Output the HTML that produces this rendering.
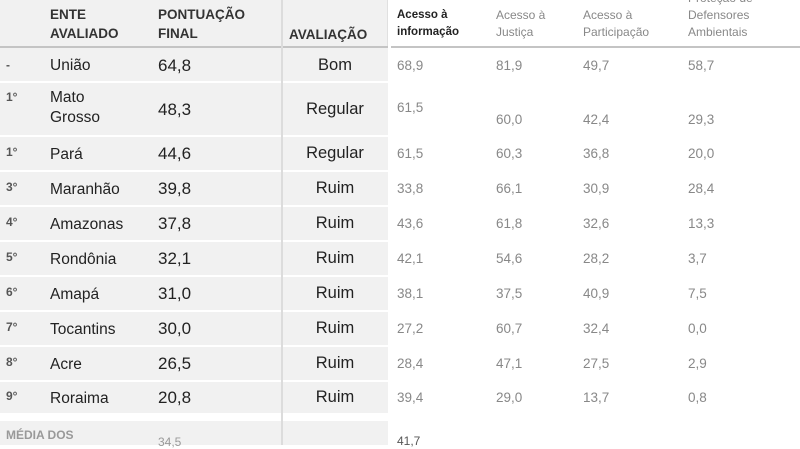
<!DOCTYPE html>
<html><head><meta charset="utf-8"><style>
body{margin:0;width:800px;height:445px;overflow:hidden;background:#fff;font-family:"Liberation Sans",sans-serif;position:relative}
.a{position:absolute;white-space:nowrap;line-height:1}
.bg{position:absolute;left:0;width:389px;background:#f1f1f1}
.rk{font-size:12px;font-weight:bold;color:#555;left:6px}
.nm{font-size:15.5px;color:#222;left:50px}
.sc{font-size:17px;color:#222;left:158px}
.av{font-size:16.5px;color:#222;left:282px;width:106px;text-align:center}
.v{font-size:13.5px;color:#888}
.h{font-size:13.5px;font-weight:bold;color:#333;line-height:19px}
.hr{font-size:12px;color:#888;line-height:17px}
</style></head><body>
<div class="bg" style="top:0;height:46px"></div>
<div class="a" style="left:0;top:46px;width:800px;height:2px;background:#c4c4c4"></div>
<div class="bg" style="top:48px;height:33px"></div>
<div class="bg" style="top:83px;height:52px"></div>
<div class="bg" style="top:137px;height:33px"></div>
<div class="bg" style="top:172px;height:33px"></div>
<div class="bg" style="top:207px;height:33px"></div>
<div class="bg" style="top:242px;height:33px"></div>
<div class="bg" style="top:277px;height:33px"></div>
<div class="bg" style="top:312px;height:33px"></div>
<div class="bg" style="top:347px;height:33px"></div>
<div class="bg" style="top:382px;height:31px"></div>
<div class="bg" style="top:421px;height:24px"></div>
<div class="a" style="left:281px;top:0;width:2px;height:445px;background:#dcdcdc"></div>
<div class="a" style="left:388px;top:0;width:3px;height:445px;background:#fff"></div>
<div class="a" style="left:387px;top:0;width:1px;height:46px;background:#e0e0e0"></div>

<div class="a h" style="left:50px;top:5px">ENTE<br>AVALIADO</div>
<div class="a h" style="left:158px;top:5px">PONTUAÇÃO<br>FINAL</div>
<div class="a h" style="left:289px;top:25px">AVALIAÇÃO</div>
<div class="a hr" style="left:397px;top:7px;color:#222;font-weight:bold;font-size:11.5px">Acesso à<br>informação</div>
<div class="a hr" style="left:496px;top:7px">Acesso à<br>Justiça</div>
<div class="a hr" style="left:583px;top:7px">Acesso à<br>Participação</div>
<div class="a hr" style="left:688px;top:-10px">Proteção de<br>Defensores<br>Ambientais</div>

<div class="a rk" style="top:59px">-</div><div class="a nm" style="top:58px">União</div><div class="a sc" style="top:57px">64,8</div><div class="a av" style="top:57px">Bom</div>
<div class="a v" style="left:397px;top:59px">68,9</div><div class="a v" style="left:496px;top:59px">81,9</div><div class="a v" style="left:583px;top:59px">49,7</div><div class="a v" style="left:688px;top:59px">58,7</div>

<div class="a rk" style="top:91px">1°</div><div class="a nm" style="line-height:20px;top:88px">Mato<br>Grosso</div><div class="a sc" style="top:101px">48,3</div><div class="a av" style="top:101px">Regular</div>
<div class="a v" style="left:397px;top:101px">61,5</div><div class="a v" style="left:496px;top:113px">60,0</div><div class="a v" style="left:583px;top:113px">42,4</div><div class="a v" style="left:688px;top:113px">29,3</div>

<div class="a rk" style="top:146px">1°</div><div class="a nm" style="top:147px">Pará</div><div class="a sc" style="top:145px">44,6</div><div class="a av" style="top:145px">Regular</div>
<div class="a v" style="left:397px;top:147px">61,5</div><div class="a v" style="left:496px;top:147px">60,3</div><div class="a v" style="left:583px;top:147px">36,8</div><div class="a v" style="left:688px;top:147px">20,0</div>

<div class="a rk" style="top:181px">3°</div><div class="a nm" style="top:182px">Maranhão</div><div class="a sc" style="top:180px">39,8</div><div class="a av" style="top:180px">Ruim</div>
<div class="a v" style="left:397px;top:182px">33,8</div><div class="a v" style="left:496px;top:182px">66,1</div><div class="a v" style="left:583px;top:182px">30,9</div><div class="a v" style="left:688px;top:182px">28,4</div>

<div class="a rk" style="top:216px">4°</div><div class="a nm" style="top:217px">Amazonas</div><div class="a sc" style="top:215px">37,8</div><div class="a av" style="top:215px">Ruim</div>
<div class="a v" style="left:397px;top:217px">43,6</div><div class="a v" style="left:496px;top:217px">61,8</div><div class="a v" style="left:583px;top:217px">32,6</div><div class="a v" style="left:688px;top:217px">13,3</div>

<div class="a rk" style="top:251px">5°</div><div class="a nm" style="top:252px">Rondônia</div><div class="a sc" style="top:250px">32,1</div><div class="a av" style="top:250px">Ruim</div>
<div class="a v" style="left:397px;top:252px">42,1</div><div class="a v" style="left:496px;top:252px">54,6</div><div class="a v" style="left:583px;top:252px">28,2</div><div class="a v" style="left:688px;top:252px">3,7</div>

<div class="a rk" style="top:286px">6°</div><div class="a nm" style="top:287px">Amapá</div><div class="a sc" style="top:285px">31,0</div><div class="a av" style="top:285px">Ruim</div>
<div class="a v" style="left:397px;top:287px">38,1</div><div class="a v" style="left:496px;top:287px">37,5</div><div class="a v" style="left:583px;top:287px">40,9</div><div class="a v" style="left:688px;top:287px">7,5</div>

<div class="a rk" style="top:321px">7°</div><div class="a nm" style="top:322px">Tocantins</div><div class="a sc" style="top:320px">30,0</div><div class="a av" style="top:320px">Ruim</div>
<div class="a v" style="left:397px;top:322px">27,2</div><div class="a v" style="left:496px;top:322px">60,7</div><div class="a v" style="left:583px;top:322px">32,4</div><div class="a v" style="left:688px;top:322px">0,0</div>

<div class="a rk" style="top:356px">8°</div><div class="a nm" style="top:357px">Acre</div><div class="a sc" style="top:355px">26,5</div><div class="a av" style="top:355px">Ruim</div>
<div class="a v" style="left:397px;top:357px">28,4</div><div class="a v" style="left:496px;top:357px">47,1</div><div class="a v" style="left:583px;top:357px">27,5</div><div class="a v" style="left:688px;top:357px">2,9</div>

<div class="a rk" style="top:390px">9°</div><div class="a nm" style="top:391px">Roraima</div><div class="a sc" style="top:389px">20,8</div><div class="a av" style="top:389px">Ruim</div>
<div class="a v" style="left:397px;top:391px">39,4</div><div class="a v" style="left:496px;top:391px">29,0</div><div class="a v" style="left:583px;top:391px">13,7</div><div class="a v" style="left:688px;top:391px">0,8</div>

<div class="a" style="left:6px;top:429px;font-size:12px;font-weight:bold;color:#999">MÉDIA DOS</div>
<div class="a" style="left:158px;top:436px;font-size:12px;color:#999">34,5</div>
<div class="a" style="left:397px;top:435px;font-size:12px;color:#555">41,7</div>
</body></html>
